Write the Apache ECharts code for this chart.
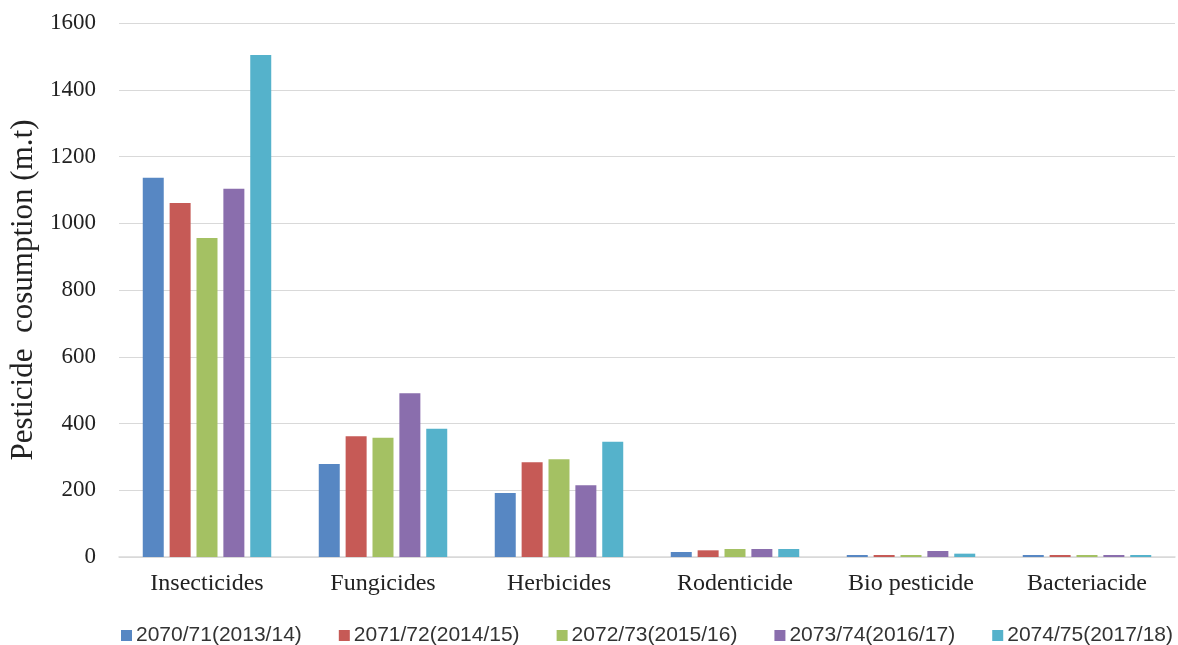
<!DOCTYPE html>
<html><head><meta charset="utf-8">
<script src="https://cdn.jsdelivr.net/npm/echarts@6/dist/echarts.min.js"></script>
<style>html,body{margin:0;padding:0;background:#fff}#c{width:1178px;height:645px}</style>
</head><body><div id="c"></div>
<script>
const categories = ['Insecticides','Fungicides','Herbicides','Rodenticide','Bio pesticide','Bacteriacide'];
const seriesNames = ['2070/71(2013/14)','2071/72(2014/15)','2072/73(2015/16)','2073/74(2016/17)','2074/75(2017/18)'];
const s2013 = [1136, 279, 192, 15, 6, 6];
const s2014 = [1061, 362, 284, 20, 6, 6];
const s2015 = [956, 357, 293, 24, 6, 6];
const s2016 = [1103, 491, 215, 24, 18, 6];
const s2017 = [1504, 384, 345, 24, 10, 6];
const yTicks = [0,200,400,600,800,1000,1200,1400,1600];
const colors = ['#5787C3','#C65A56','#A4C163','#8A6EAD','#55B2CB'];

const allData = [s2013, s2014, s2015, s2016, s2017];
const chart = echarts.init(document.getElementById('c'));
chart.setOption({
  animation: false,
  color: colors,
  grid: {left: 119, right: 3, top: 23, bottom: 88, containLabel: false, outerBoundsMode: 'none'},
  legend: {
    top: 620, left: 116, width: 1062, itemWidth: 11, itemHeight: 11, itemGap: 37, icon: 'rect',
    textStyle: {fontFamily: 'Liberation Sans, Arial, sans-serif', fontSize: 21, color: '#333', padding: [0,0,0,-1]},
    data: seriesNames
  },
  xAxis: {
    type: 'category', data: categories,
    axisLine: {lineStyle: {color: '#d9d9d9', width: 1.5}},
    axisTick: {show: false},
    axisLabel: {fontFamily: 'Liberation Serif, serif', fontSize: 24, color: '#222', margin: 15}
  },
  yAxis: {
    type: 'value', min: 0, max: 1600, interval: 200,
    name: 'Pesticide  cosumption (m.t)', nameLocation: 'middle', nameGap: 77,
    nameTextStyle: {fontFamily: 'Liberation Serif, serif', fontSize: 31, color: '#222'},
    axisLine: {show: false}, axisTick: {show: false},
    axisLabel: {fontFamily: 'Liberation Serif, serif', fontSize: 23, color: '#222', margin: 23,
      formatter: v => yTicks.includes(v) ? String(v) : ''},
    splitLine: {lineStyle: {color: '#d9d9d9', width: 1}}
  },
  series: allData.map((d, i) => ({
    name: seriesNames[i], type: 'bar', data: d,
    barGap: '28%', barCategoryGap: '27%',
    itemStyle: {borderWidth: 0}
  }))
});
</script></body></html>
